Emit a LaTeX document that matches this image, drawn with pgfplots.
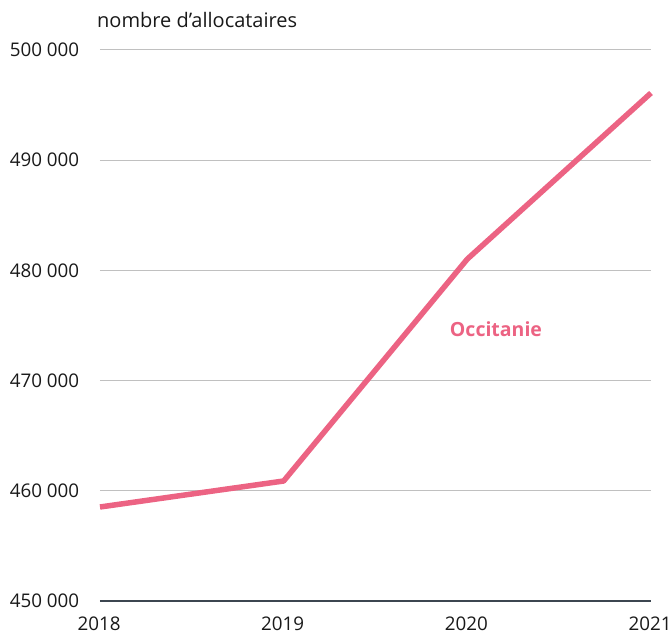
\documentclass[border=0pt]{standalone}
\usepackage{fontspec}
\setmainfont{Open Sans}
\usepackage{pgfplots}
\pgfplotsset{compat=1.18}
\definecolor{occ}{RGB}{236,99,131}
\definecolor{gridc}{RGB}{192,192,192}
\definecolor{axc}{RGB}{60,70,80}
\definecolor{txt}{RGB}{25,25,25}
\begin{document}
\fontsize{20bp}{24bp}\selectfont
\begin{tikzpicture}
\begin{axis}[
  scale only axis, width=551bp, height=551bp,
  xmin=2018, xmax=2021, ymin=450000, ymax=500000,
  xtick={2018,2019,2020,2021},
  ytick={450000,460000,470000,480000,490000,500000},
  scaled y ticks=false,
  axis x line*=bottom, axis y line*=left,
  y axis line style={draw=none},
  x axis line style={draw=axc, line width=1.2bp},
  major tick length=0pt,
  ymajorgrids, grid style={gridc, line width=1bp},
  tick label style={font=\fontsize{18.8bp}{22bp}\selectfont, text=txt},
  /pgf/number format/assume math mode=true,
  yticklabel style={anchor=east, xshift=-14bp,
    /pgf/number format/fixed, /pgf/number format/1000 sep={\ }},
  xticklabel style={anchor=north, yshift=-9bp, xshift=-1bp,
    /pgf/number format/1000 sep={}},
  clip=false,
]
\addplot[occ, line width=5.5bp, line join=round] coordinates {
  (2018,458530) (2019,460890) (2020,481030) (2021,496100)
};
\node[anchor=center, text=occ, font=\fontsize{19.5bp}{24bp}\selectfont\bfseries]
  at (axis cs:2020.156,474700) {Occitanie};
\node[anchor=base west, text=txt, inner sep=0pt]
  at ([xshift=-3bp,yshift=22bp]rel axis cs:0,1) {nombre d’allocataires};
\coordinate (bl) at (rel axis cs:0,0);
\coordinate (tr) at (rel axis cs:1,1);
\end{axis}
\pgfresetboundingbox
\path[use as bounding box] ([xshift=-100bp,yshift=-34bp]bl) rectangle ([xshift=21bp,yshift=50bp]tr);
\end{tikzpicture}
\end{document}
